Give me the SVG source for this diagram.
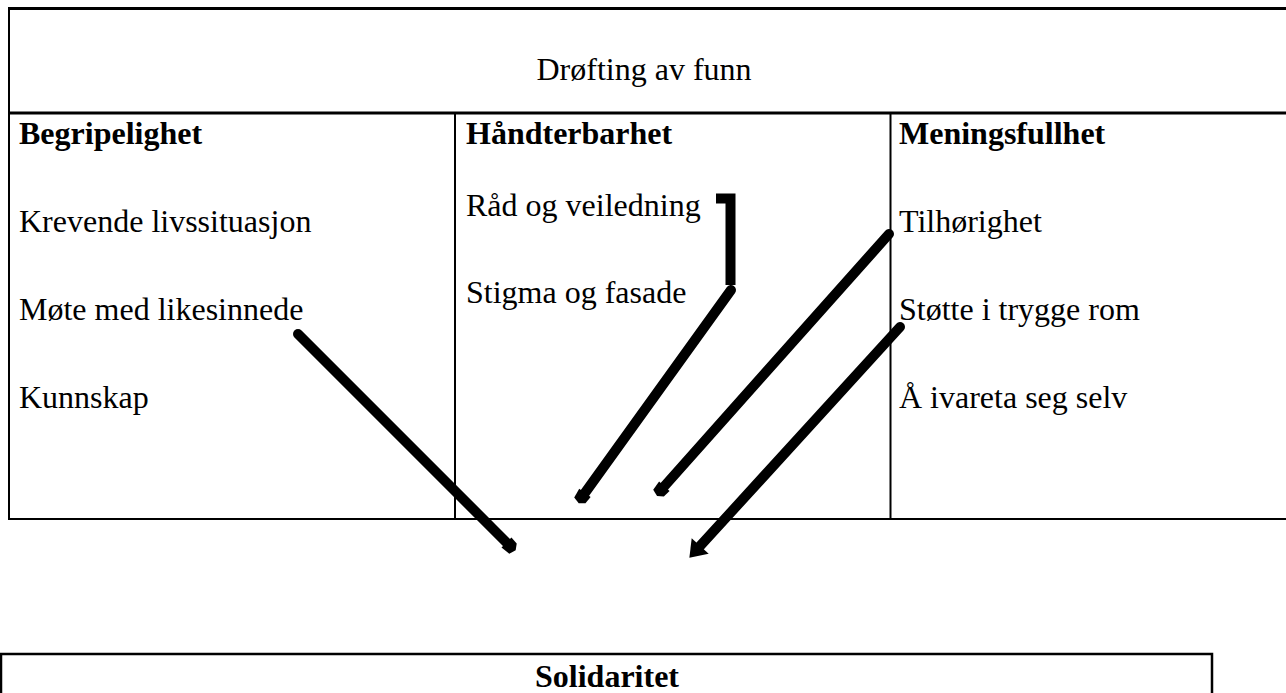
<svg xmlns="http://www.w3.org/2000/svg" width="1286" height="693" viewBox="0 0 1286 693">
<style>
  text { font-family: "Liberation Serif", "Times New Roman", "DejaVu Serif", serif; font-size: 32px; fill: #000; }
  .b { font-weight: bold; }
  .grid { stroke: #000; stroke-width: 2; fill: none; }
  .thick { stroke-width: 3; }
  .conn { stroke: #000; stroke-width: 10; fill: none; stroke-linecap: round; stroke-linejoin: miter; }
</style>
<defs>
  <marker id="blob" markerUnits="userSpaceOnUse" viewBox="-20 -20 40 40" markerWidth="40" markerHeight="40" refX="0" refY="0" orient="auto">
    <polygon points="-5,-7 3,-6.5 7,-1 5,6 -5,7" fill="#000"/>
  </marker>
  <marker id="head" markerUnits="userSpaceOnUse" viewBox="-20 -20 40 40" markerWidth="40" markerHeight="40" refX="0" refY="0" orient="auto">
    <path d="M15,0 L-1,-11.5 L-1,11.5 Z" fill="#000"/>
  </marker>
</defs>

<g id="table">
  <line class="grid thick" x1="8" y1="8.5" x2="1286" y2="8.5"/>
  <line class="grid thick" x1="8" y1="113" x2="1286" y2="113"/>
  <line class="grid" x1="9" y1="7" x2="9" y2="520"/>
  <line class="grid" x1="8" y1="519" x2="1286" y2="519"/>
  <line class="grid" x1="455" y1="113" x2="455" y2="519"/>
  <line class="grid" x1="890.5" y1="113" x2="890.5" y2="519"/>
</g>

<g id="header">
  <text x="644" y="80" text-anchor="middle">Drøfting av funn</text>
</g>

<g id="begripelighet">
  <text class="b" x="19" y="144">Begripelighet</text>
  <text x="19" y="232">Krevende livssituasjon</text>
  <text x="19" y="320">Møte med likesinnede</text>
  <text x="19" y="408">Kunnskap</text>
</g>

<g id="handterbarhet">
  <text class="b" x="466" y="144">Håndterbarhet</text>
  <text x="466" y="216">Råd og veiledning</text>
  <text x="466" y="303">Stigma og fasade</text>
</g>

<g id="meningsfullhet">
  <text class="b" x="899" y="144">Meningsfullhet</text>
  <text x="899" y="232">Tilhørighet</text>
  <text x="899" y="320">Støtte i trygge rom</text>
  <text x="899" y="408">Å ivareta seg selv</text>
</g>

<g id="solidaritet">
  <rect x="1" y="654" width="1211" height="60" fill="none" stroke="#000" stroke-width="2.5"/>
  <text class="b" x="607" y="687" text-anchor="middle">Solidaritet</text>
</g>

<g id="connectors">
  <polyline class="conn" points="721,198.5 730.5,198.5 730.5,280" style="stroke-linecap:square"/>
  <line class="conn" x1="731" y1="290" x2="582" y2="497" marker-end="url(#blob)"/>
  <line class="conn" x1="889" y1="234" x2="661" y2="490" marker-end="url(#blob)"/>
  <line class="conn" x1="298" y1="334" x2="510" y2="546" marker-end="url(#blob)"/>
  <line class="conn" x1="900" y1="327" x2="699.5" y2="546.7" marker-end="url(#head)"/>
</g>
</svg>
